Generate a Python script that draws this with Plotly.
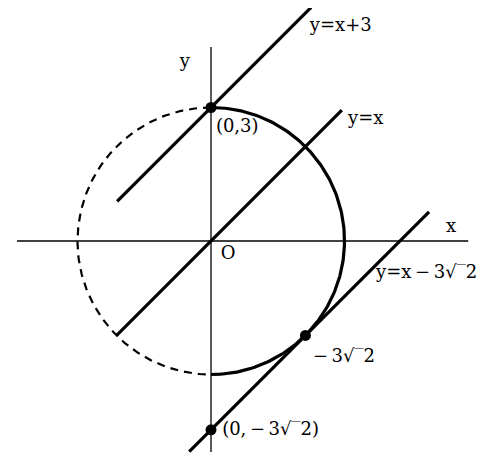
import numpy as np
from plotly import graph_objects as go

# circle x^2 + y^2 = 9
radius = 3.0
solid_arc_deg = [90, -90]      # right half, drawn solid
dashed_arc_deg = [90, 270]     # left half, drawn dashed

# lines y = x + b, with the x-extent each segment is drawn over
line_intercepts = [3.0, 0.0, -3 * np.sqrt(2)]
line_x_ranges = [[-2.11, 2.25], [-2.11, 2.94], [-0.49, 4.9]]

# marked points
point_x = [0.0, 3 / np.sqrt(2), 0.0]
point_y = [3.0, -3 / np.sqrt(2), -3 * np.sqrt(2)]

# text labels
SQ = "\u221a\u203e2"
label_text = ["y=x+3", "y", "(0,3)", "y=x", "x", "O",
              "y=x\u2009\u2212\u20093" + SQ, "\u2212\u20093" + SQ, "(0,\u2009\u2212\u20093" + SQ + ")"]
label_x = [2.22, -0.70, 0.11, 3.08, 5.28, 0.22, 3.71, 2.29, 0.25]
label_y = [4.81, 4.02, 2.56, 2.72, 0.31, -0.31, -0.72, -2.61, -4.25]

x_axis_span = [-4.36, 5.78]
y_axis_span = [-4.74, 4.36]

FONT = "DejaVu Serif"

fig = go.Figure()


def arc(deg_from, deg_to):
    t = np.radians(np.linspace(deg_from, deg_to, 181))
    return radius * np.cos(t), radius * np.sin(t)


# axes
fig.add_trace(go.Scatter(x=x_axis_span, y=[0, 0], mode="lines",
                         line=dict(color="black", width=1.3), showlegend=False, hoverinfo="skip"))
fig.add_trace(go.Scatter(x=[0, 0], y=y_axis_span, mode="lines",
                         line=dict(color="black", width=1.3), showlegend=False, hoverinfo="skip"))

# circle
cx, cy = arc(*dashed_arc_deg)
fig.add_trace(go.Scatter(x=cx, y=cy, mode="lines",
                         line=dict(color="black", width=2.2, dash="8px,6px"), showlegend=False))
cx, cy = arc(*solid_arc_deg)
fig.add_trace(go.Scatter(x=cx, y=cy, mode="lines",
                         line=dict(color="black", width=3.2), showlegend=False))

# lines
for b, (x0, x1) in zip(line_intercepts, line_x_ranges):
    fig.add_trace(go.Scatter(x=[x0, x1], y=[x0 + b, x1 + b], mode="lines",
                             line=dict(color="black", width=3.2), showlegend=False))

# points
fig.add_trace(go.Scatter(x=point_x, y=point_y, mode="markers",
                         marker=dict(color="black", size=11), showlegend=False))

# labels
fig.add_trace(go.Scatter(x=label_x, y=label_y, mode="text", text=label_text,
                         textposition="middle right",
                         textfont=dict(family=FONT, size=18, color="black"),
                         showlegend=False))

# the page puts the figure 8px in from the top-left corner, so the ranges
# are set for the origin to land at (211, 241) in the window
fig.update_layout(
    width=500,
    height=465,
    margin=dict(l=0, r=0, t=0, b=0),
    paper_bgcolor="white",
    plot_bgcolor="white",
    xaxis=dict(range=[-4.562, 6.674], visible=False, fixedrange=True),
    yaxis=dict(range=[-5.213, 5.236], visible=False, fixedrange=True),
)

fig.write_html("out.html")
